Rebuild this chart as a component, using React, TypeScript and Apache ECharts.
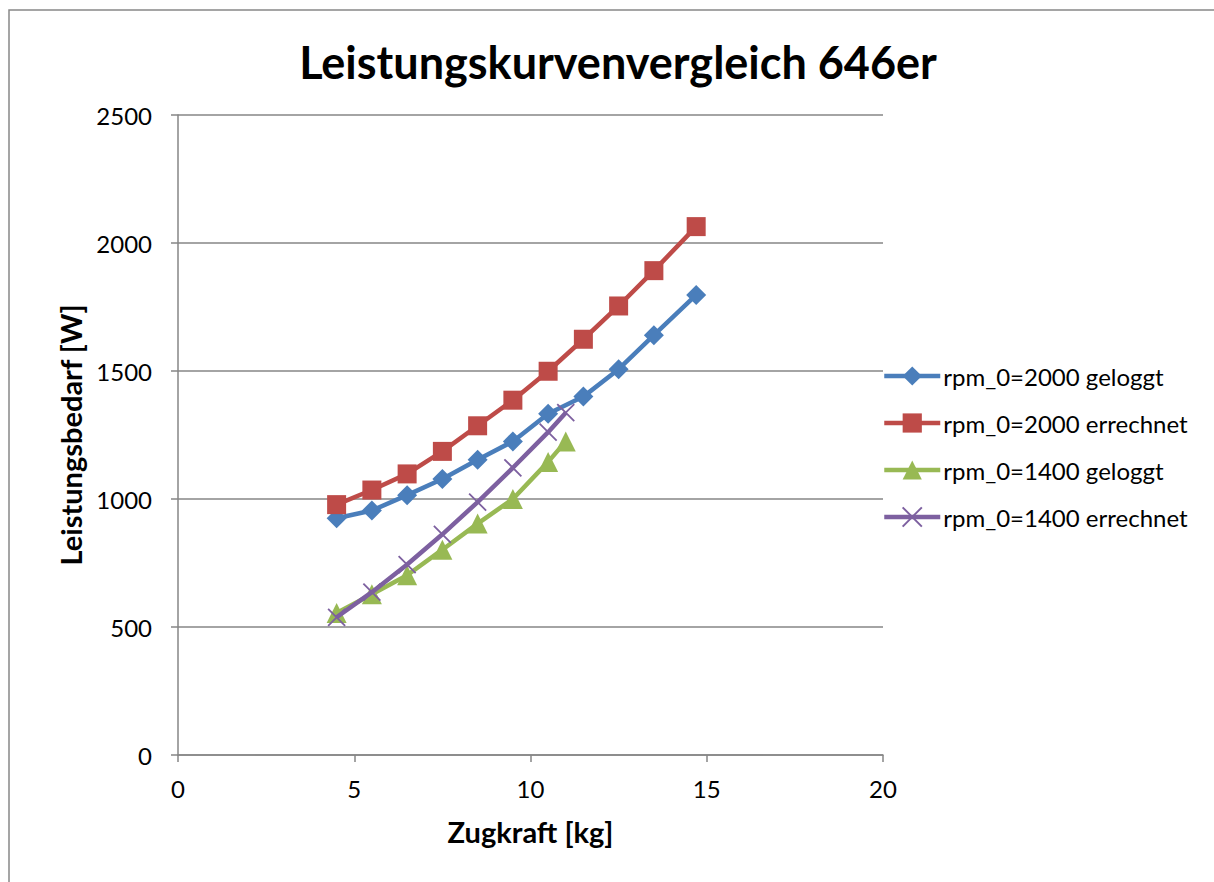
import React, { useEffect, useRef } from "react";
import * as echarts from "echarts";

const titleText = "Leistungskurvenvergleich 646er";
const xAxisName = "Zugkraft [kg]";
const yAxisName = "Leistungsbedarf [W]";

const xLogged2000 = [4.5, 5.5, 6.5, 7.5, 8.5, 9.5, 10.5, 11.5, 12.5, 13.5, 14.7];
const yLogged2000 = [925, 955, 1015, 1078, 1153, 1225, 1333, 1400, 1507, 1640, 1797];

const xCalc2000 = [4.5, 5.5, 6.5, 7.5, 8.5, 9.5, 10.5, 11.5, 12.5, 13.5, 14.7];
const yCalc2000 = [978, 1035, 1098, 1186, 1286, 1386, 1499, 1624, 1754, 1892, 2064];

const xLogged1400 = [4.5, 5.5, 6.5, 7.5, 8.5, 9.5, 10.5, 11];
const yLogged1400 = [555, 628, 702, 802, 904, 1000, 1145, 1225];

const xCalc1400 = [4.5, 5.5, 6.5, 7.5, 8.5, 9.5, 10.5, 11];
const yCalc1400 = [538, 636, 744, 862, 988, 1122, 1261, 1337];

const seriesNames = [
  "rpm_0=2000 geloggt",
  "rpm_0=2000 errechnet",
  "rpm_0=1400 geloggt",
  "rpm_0=1400 errechnet",
];
const colors = ["#4a7ebb", "#be4b48", "#98b954", "#7d60a0"];

const zip = (xs: number[], ys: number[]) => xs.map((x, i) => [x, ys[i]]);

const FONT = "Lato";

export default function App() {
  const ref = useRef<HTMLDivElement>(null);
  useEffect(() => {
    if (!ref.current) return;
    const chart = echarts.init(ref.current, null, { renderer: "svg" });
    const symbols = ["diamond", "rect", "triangle", "path://M0,0L10,10M0,10L10,0"];
    const sizes = [20, 19, 20, 17];
    const datasets = [
      zip(xLogged2000, yLogged2000),
      zip(xCalc2000, yCalc2000),
      zip(xLogged1400, yLogged1400),
      zip(xCalc1400, yCalc1400),
    ];
    chart.setOption({
      animation: false,
      backgroundColor: "#ffffff",
      textStyle: { fontFamily: FONT, color: "#000" },
      title: {
        text: titleText,
        left: 613,
        textAlign: "center",
        top: 34,
        textStyle: { fontFamily: FONT, fontWeight: "bold", fontSize: 45, color: "#000" },
      },
      graphic: [
        {
          type: "rect",
          shape: { x: 9, y: 10, width: 1400, height: 1000 },
          style: { fill: "none", stroke: "#888888", lineWidth: 1.5 },
          silent: true,
        },
      ],
      legend: {
        orient: "vertical",
        left: 877,
        top: 359,
        itemWidth: 56,
        itemHeight: 24,
        itemGap: 23,
        lineStyle: { width: 4.5 },
        textStyle: { fontFamily: FONT, fontSize: 24, color: "#000", padding: [0, 0, 0, -2] },
        data: seriesNames,
      },
      grid: { left: 178, top: 115, right: 331, bottom: 127, containLabel: false },
      xAxis: {
        type: "value",
        min: 0,
        max: 20,
        interval: 5,
        name: xAxisName,
        nameLocation: "middle",
        nameGap: 62,
        nameTextStyle: { fontFamily: FONT, fontWeight: "bold", fontSize: 29, color: "#000" },
        axisLine: { show: true, lineStyle: { color: "#868686", width: 1.5 } },
        axisTick: { show: true, length: 7, lineStyle: { color: "#868686", width: 1.5 } },
        axisLabel: { fontFamily: FONT, fontSize: 24, color: "#000", margin: 21 },
        splitLine: { show: false },
      },
      yAxis: {
        type: "value",
        min: 0,
        max: 2500,
        interval: 500,
        name: yAxisName,
        nameLocation: "middle",
        nameGap: 84,
        nameRotate: 90,
        nameTextStyle: { fontFamily: FONT, fontWeight: "bold", fontSize: 29, color: "#000" },
        axisLine: { show: true, lineStyle: { color: "#868686", width: 1.5 } },
        axisTick: { show: true, length: 7, lineStyle: { color: "#868686", width: 1.5 } },
        axisLabel: {
          fontFamily: FONT,
          fontSize: 24,
          color: "#000",
          margin: 26,
          formatter: (v: number) => String(v),
        },
        splitLine: { show: true, lineStyle: { color: "#868686", width: 1.5 } },
      },
      series: seriesNames.map((name, i) => ({
        name,
        type: "line",
        data: datasets[i],
        symbol: symbols[i],
        symbolSize: sizes[i],
        showSymbol: true,
        lineStyle: { color: colors[i], width: 4.5 },
        itemStyle:
          i === 3
            ? { color: colors[i], borderColor: colors[i], borderWidth: 1.8 }
            : { color: colors[i], borderWidth: 0 },
        z: 2 + i,
      })),
    });
    return () => chart.dispose();
  }, []);
  return (
    <div
      ref={ref}
      style={{ position: "absolute", left: 0, top: 0, width: 1214, height: 882 }}
    />
  );
}
